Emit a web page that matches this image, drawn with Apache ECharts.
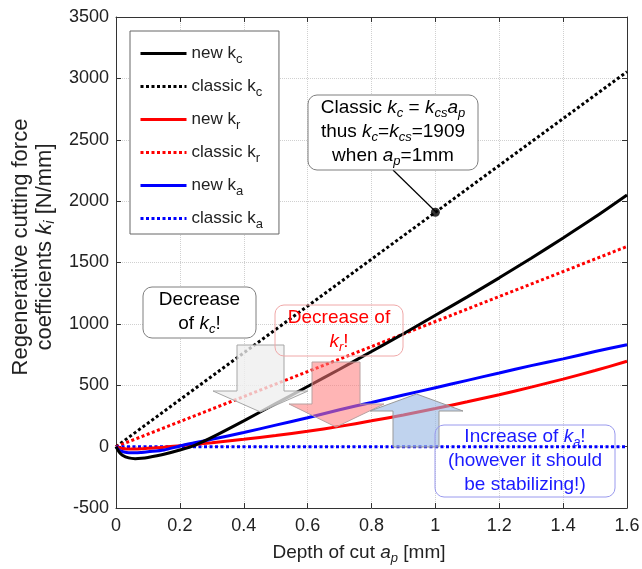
<!DOCTYPE html>
<html>
<head>
<meta charset="utf-8">
<script src="https://cdn.jsdelivr.net/npm/echarts@6/dist/echarts.min.js"></script>
<style>
  html, body { margin: 0; padding: 0; background: #fff; }
  #main { width: 642px; height: 569px; }
</style>
</head>
<body>
<div id="main"></div>
<script>
var apNew = [0, 0.01, 0.02, 0.04, 0.06, 0.08, 0.1, 0.15, 0.2, 0.25, 0.3, 0.4, 0.5, 0.6, 0.7, 0.8, 0.9, 1.0, 1.1, 1.2, 1.3, 1.4, 1.5, 1.6];
var newKc = [0, -45, -70, -92, -98, -95, -88, -62, -28, 15, 75, 210, 350, 490, 630, 775, 920, 1070, 1220, 1375, 1535, 1700, 1870, 2050];
var newKr = [0, -10, -15, -20, -20, -18, -14, -5, 8, 20, 32, 60, 90, 125, 165, 210, 258, 310, 365, 423, 485, 550, 620, 695];
var newKa = [0, -30, -40, -50, -50, -47, -42, -28, 5, 33, 60, 115, 175, 235, 300, 360, 420, 480, 540, 600, 660, 715, 775, 830];

// classic (linear) coefficients
var apClassic = [0, 0.4, 0.8, 1.2, 1.6];
var classicKc = [0, 763.6, 1527.2, 2290.8, 3054.4];
var classicKr = [0, 407.6, 815.2, 1222.8, 1630.4];
var classicKa = [0, 0, 0, 0, 0];

// highlighted point: k_c = k_cs = 1909 at a_p = 1 mm
var markAp = [1];
var markKc = [1909];

var legendNames = ['new kc', 'classic kc', 'new kr', 'classic kr', 'new ka', 'classic ka'];

var FONT = 'Liberation Sans, Arial, Helvetica, sans-serif';

function pairs(xs, ys) {
  return xs.map(function (x, i) { return [x, ys[i]]; });
}

function richFor(color, size) {
  return {
    n: { fontSize: size, fontFamily: FONT, fill: color, lineHeight: 24 },
    i: { fontSize: size, fontFamily: FONT, fontStyle: 'italic', fill: color, lineHeight: 24 },
    s: { fontSize: Math.round(size * 0.68), fontFamily: FONT, fontStyle: 'italic', fill: color, lineHeight: 24, padding: [10, 0, 0, 0] }
  };
}

function label(x, y, text, color, size, extra) {
  var el = {
    type: 'text', z: 102, x: x, y: y,
    style: {
      text: text, align: 'center', verticalAlign: 'middle',
      fill: color, fontSize: size, fontFamily: FONT, rich: richFor(color, size)
    }
  };
  return Object.assign(el, extra || {});
}

function box(x, y, w, h, fill, stroke) {
  return { type: 'rect', z: 101, shape: { x: x, y: y, width: w, height: h, r: 9 },
    style: { fill: fill, stroke: stroke, lineWidth: 1 } };
}

function line(name, xs, ys, color, dotted) {
  return {
    name: name, type: 'line', data: pairs(xs, ys), smooth: dotted ? false : 0.3,
    symbol: 'none', color: color, legendIcon: 'none',
    lineStyle: { color: color, width: 3, type: dotted ? [3, 2.5] : 'solid' }
  };
}

var chart = echarts.init(document.getElementById('main'));

var option = {
  animation: false,
  backgroundColor: '#fff',
  grid: { left: 116, right: 15, top: 17, bottom: 61, outerBoundsMode: 'none' },
  legend: {
    data: legendNames,
    orient: 'vertical', left: 130, top: 31,
    padding: [14, 16, 3, 9],
    itemWidth: 46, itemHeight: 14, itemGap: 12,
    itemStyle: { opacity: 0 },
    lineStyle: { width: 3 },
    backgroundColor: '#fff', borderColor: '#666', borderWidth: 1, borderRadius: 0,
    formatter: function (name) {
      var p = name.split(' ');
      return '{t|' + p[0] + ' k}{s|' + p[1].slice(1) + '}';
    },
    textStyle: {
      fontFamily: FONT, fontSize: 17, color: '#222',
      rich: {
        t: { fontFamily: FONT, fontSize: 17, color: '#222' },
        s: { fontFamily: FONT, fontSize: 13, color: '#222', padding: [12, 0, 0, 0] }
      }
    }
  },
  xAxis: [{
    type: 'value', min: 0, max: 1.6, interval: 0.2,
    axisLine: { show: true, onZero: false, lineStyle: { color: '#333' } },
    axisTick: { show: true, inside: true, length: 5, lineStyle: { color: '#333' } },
    axisLabel: { fontFamily: FONT, fontSize: 18, color: '#222', margin: 9 },
    splitLine: { show: true, lineStyle: { color: '#d0d0d0', type: 'dotted' } }
  }, {
    type: 'value', position: 'top', min: 0, max: 1.6, interval: 0.2,
    axisLine: { show: true, onZero: false, lineStyle: { color: '#333' } },
    axisTick: { show: true, inside: true, length: 5, lineStyle: { color: '#333' } },
    axisLabel: { show: false },
    splitLine: { show: false }
  }],
  yAxis: [{
    type: 'value', min: -500, max: 3500, interval: 500,
    axisLine: { show: true, onZero: false, lineStyle: { color: '#333' } },
    axisTick: { show: true, inside: true, length: 5, lineStyle: { color: '#333' } },
    axisLabel: { fontFamily: FONT, fontSize: 18, color: '#222', margin: 7,
      formatter: function (v) { return String(v); } },
    splitLine: { show: true, lineStyle: { color: '#d0d0d0', type: 'dotted' } }
  }, {
    type: 'value', position: 'right', min: -500, max: 3500, interval: 500,
    axisLine: { show: true, onZero: false, lineStyle: { color: '#333' } },
    axisTick: { show: true, inside: true, length: 5, lineStyle: { color: '#333' } },
    axisLabel: { show: false },
    splitLine: { show: false }
  }],
  series: [
    line('classic kc', apClassic, classicKc, '#000000', true),
    line('classic kr', apClassic, classicKr, '#ff0000', true),
    line('classic ka', apClassic, classicKa, '#0000ff', true),
    line('new kr', apNew, newKr, '#ff0000', false),
    line('new ka', apNew, newKa, '#0000ff', false),
    line('new kc', apNew, newKc, '#000000', false),
    {
      name: 'point', type: 'scatter', data: pairs(markAp, markKc),
      symbol: 'circle', symbolSize: 9, itemStyle: { color: '#000' }, z: 5
    }
  ],
  graphic: [
    // block arrows
    { type: 'polygon', z: 100,
      shape: { points: [[237, 345], [284, 345], [284, 391], [308, 391], [260.5, 412], [213, 391], [237, 391]] },
      style: { fill: 'rgba(238,238,238,0.78)', stroke: '#a6a6a6', lineWidth: 1 } },
    { type: 'polygon', z: 100,
      shape: { points: [[312, 362], [360, 362], [360, 404], [384, 404], [336, 427], [289, 404], [312, 404]] },
      style: { fill: 'rgba(255,120,120,0.55)', stroke: '#b8a0a0', lineWidth: 1 } },
    { type: 'polygon', z: 100,
      shape: { points: [[393, 447], [439, 447], [439, 411], [463, 411], [416.5, 394], [370, 411], [393, 411]] },
      style: { fill: 'rgba(150,182,226,0.6)', stroke: '#999', lineWidth: 1 } },

    // classic k_c callout
    { type: 'line', z: 101, shape: { x1: 393, y1: 170, x2: 435, y2: 211 },
      style: { stroke: '#000', lineWidth: 1.2 } },
    box(308, 95, 170, 75, '#fff', '#7f7f7f'),
    label(393, 132, '{n|Classic }{i|k}{s|c}{n| = }{i|k}{s|cs}{i|a}{s|p}\n{n|thus }{i|k}{s|c}{n|=}{i|k}{s|cs}{n|=1909}\n{n|when }{i|a}{s|p}{n|=1mm}', '#000', 19),

    box(143, 287, 113, 51, '#fff', '#7f7f7f'),
    label(199.5, 312, '{n|Decrease}\n{n|of }{i|k}{s|c}{n|!}', '#000', 19),

    box(275, 305, 128, 51, 'rgba(255,255,255,0)', '#f0a8a8'),
    label(339, 330, '{n|Decrease of}\n{i|k}{s|r}{n|!}', '#ff0000', 19),

    box(435, 425, 180, 72, 'rgba(255,255,255,0)', '#9a9aee'),
    label(525, 461, '{n|Increase of }{i|k}{s|a}{n|!}\n{n|(however it should}\n{n|be stabilizing!)}', '#1a1aff', 19),

    // axis titles
    label(359, 553, '{n|Depth of cut }{i|a}{s|p}{n| [mm]}', '#222', 19),
    label(33, 247, '{n|Regenerative cutting force}\n{n|coefficients }{i|k}{s|i}{n| [N/mm]}', '#222', 22, { rotation: Math.PI / 2 })
  ]
};

chart.setOption(option);
</script>
</body>
</html>
